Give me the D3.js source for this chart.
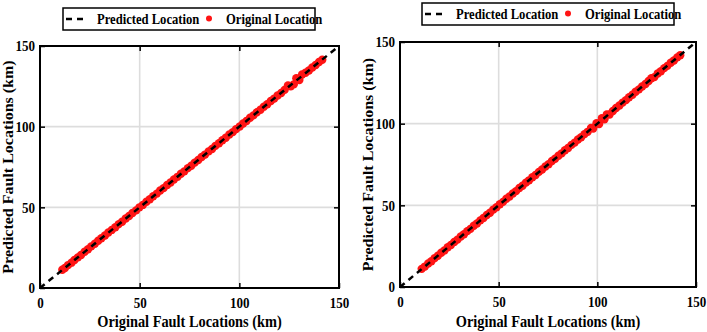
<!DOCTYPE html>
<html>
<head>
<meta charset="utf-8">
<script src="https://cdn.jsdelivr.net/npm/d3@7"></script>
<style>
  body { margin: 0; background: #fff; }
  svg { display: block; }
  svg text { font-family: "Liberation Serif", "Times New Roman", serif; font-weight: bold; fill: #000; }
</style>
</head>
<body>
<svg id="chart" width="707" height="332"></svg>
<script>
// tick values shared by both panels
const ticks = [0, 50, 100, 150];
const gridTicks = [50, 100];

// left panel: original vs predicted fault location (km)
const origLeft = [11.2,12.5,14.1,15.8,17.3,19.0,20.6,22.4,24.1,25.7,27.5,29.2,30.8,32.6,34.3,36.0,37.8,39.5,41.2,43.0,44.7,46.4,48.2,49.9,51.6,53.4,55.1,56.8,58.6,60.3,62.0,63.8,65.5,67.2,69.0,70.7,72.4,74.2,75.9,77.6,79.4,81.1,82.8,84.6,86.3,88.0,89.8,91.5,93.2,95.0,96.7,98.4,100.2,101.9,103.6,105.4,107.1,108.8,110.6,112.3,114.0,115.8,117.5,119.2,121.0,122.7,124.4,125.8,127.3,128.6,130.1,131.5,133.2,134.9,136.6,138.3,140.0,141.6];
const predLeft = [11.3,12.4,14.2,15.7,17.4,19.0,20.5,22.5,24.0,25.8,27.4,29.3,30.8,32.5,34.4,36.0,37.7,39.6,41.1,43.1,44.6,46.5,48.1,50.0,51.5,53.5,55.0,56.9,58.5,60.4,61.9,63.9,65.4,67.3,68.9,70.8,72.3,74.3,75.8,77.7,79.3,81.2,82.7,84.7,86.2,88.1,89.7,91.6,93.1,95.1,96.6,98.5,100.1,102.0,103.5,105.5,107.0,108.9,110.5,112.4,113.9,115.9,117.4,119.3,120.9,122.8,125.6,125.0,126.2,130.0,128.9,132.3,133.4,134.8,136.7,138.2,140.1,141.5];

// right panel
const origRight = [11.0,12.6,14.3,15.9,17.6,19.2,20.9,22.5,24.2,25.8,27.5,29.1,30.8,32.4,34.1,35.7,37.4,39.0,40.7,42.3,44.0,45.6,47.3,48.9,50.6,52.2,53.9,55.5,57.2,58.8,60.5,62.1,63.8,65.4,67.1,68.7,70.4,72.0,73.7,75.3,77.0,78.6,80.3,81.9,83.6,85.2,86.9,88.5,90.2,91.8,93.5,95.1,96.8,97.9,99.6,100.9,102.3,103.6,104.8,106.2,107.9,109.5,111.2,112.8,114.5,116.1,117.8,119.4,121.1,122.7,124.4,126.0,127.4,128.9,130.6,132.2,133.9,135.5,137.2,138.8,140.5,142.0];
const predRight = [11.1,12.5,14.4,15.8,17.7,19.1,21.0,22.4,24.3,25.7,27.6,29.0,30.9,32.3,34.2,35.6,37.5,38.9,40.8,42.2,44.1,45.5,47.4,48.8,50.7,52.1,54.0,55.4,57.3,58.7,60.6,62.0,63.9,65.3,67.2,68.6,70.5,71.9,73.8,75.2,77.1,78.5,80.4,81.8,83.7,85.1,87.0,88.4,90.3,91.7,93.6,95.0,97.4,97.0,100.3,99.8,103.4,102.7,105.6,105.6,107.8,109.6,111.1,112.9,114.4,116.2,117.7,119.5,121.0,122.8,124.3,126.1,127.8,128.5,130.7,132.1,134.0,135.4,137.3,138.7,140.6,141.9];

const xLabel = "Original Fault Locations (km)";
const yLabel = "Predicted Fault Locations (km)";
const legendItems = ["Predicted Location", "Original Location"];

const squish = 0.87; // the source figure is narrower than its text
const red = "#ff1414";
const svg = d3.select("#chart");

function drawPanel(box, legendPos, xs, ys) {
  const x = d3.scaleLinear().domain([0, 150]).range([box.left, box.right]);
  const y = d3.scaleLinear().domain([0, 150]).range([box.bottom, box.top]);
  const g = svg.append("g");

  // grid
  g.selectAll("line.gx").data(gridTicks).enter().append("line")
    .attr("x1", d => x(d)).attr("x2", d => x(d))
    .attr("y1", box.top).attr("y2", box.bottom)
    .attr("stroke", "#dddddd").attr("stroke-width", 1.6);
  g.selectAll("line.gy").data(gridTicks).enter().append("line")
    .attr("y1", d => y(d)).attr("y2", d => y(d))
    .attr("x1", box.left).attr("x2", box.right)
    .attr("stroke", "#dddddd").attr("stroke-width", 1.6);

  // points
  g.selectAll("circle").data(xs).enter().append("circle")
    .attr("cx", d => x(d))
    .attr("cy", (d, i) => y(ys[i]))
    .attr("r", 4.2)
    .attr("fill", red);

  // ideal line
  g.append("line")
    .attr("x1", x(0)).attr("y1", y(0)).attr("x2", x(150)).attr("y2", y(150))
    .attr("stroke", "#000").attr("stroke-width", 2.5)
    .attr("stroke-dasharray", "6,5");

  // axes, ticks inward
  const bottom = g.append("g").attr("transform", `translate(0,${box.bottom})`)
    .call(d3.axisBottom(x).tickValues(ticks).tickSizeInner(-5).tickSizeOuter(0).tickPadding(9));
  const top = g.append("g").attr("transform", `translate(0,${box.top})`)
    .call(d3.axisTop(x).tickValues(gridTicks).tickSizeInner(-5).tickSizeOuter(0).tickFormat(""));
  const left = g.append("g").attr("transform", `translate(${box.left},0)`)
    .call(d3.axisLeft(y).tickValues(ticks).tickSizeInner(-5).tickSizeOuter(0).tickPadding(5));
  const right = g.append("g").attr("transform", `translate(${box.right},0)`)
    .call(d3.axisRight(y).tickValues(gridTicks).tickSizeInner(-5).tickSizeOuter(0).tickFormat(""));
  [bottom, top, left, right].forEach(a => {
    a.select(".domain").remove();
    a.selectAll(".tick line").attr("stroke", "#000").attr("stroke-width", 1.5);
    a.selectAll("text").attr("font-size", 15).attr("font-family", null).attr("fill", null);
  });
  bottom.selectAll("text").attr("transform", `scale(${squish},1)`);
  left.selectAll("text").attr("x", -5 / squish).attr("transform", `scale(${squish},1)`);

  // frame
  g.append("rect")
    .attr("x", box.left).attr("y", box.top)
    .attr("width", box.right - box.left).attr("height", box.bottom - box.top)
    .attr("fill", "none").attr("stroke", "#000").attr("stroke-width", 2);

  // axis labels
  g.append("text")
    .attr("transform", `translate(${(box.left + box.right) / 2},327) scale(${squish},1)`)
    .attr("text-anchor", "middle").attr("font-size", 16.5)
    .text(xLabel);
  g.append("text")
    .attr("transform", `translate(${box.left - 27},${(box.top + box.bottom) / 2}) scale(${squish},1) rotate(-90)`)
    .attr("text-anchor", "middle").attr("font-size", 16)
    .text(yLabel);

  // legend
  const lg = g.append("g").attr("transform", `translate(${legendPos.x},${legendPos.y})`);
  lg.append("rect").attr("width", 252).attr("height", 22)
    .attr("fill", "#fff").attr("stroke", "#000").attr("stroke-width", 1.5);
  lg.append("line").attr("x1", 3).attr("x2", 24).attr("y1", 11).attr("y2", 11)
    .attr("stroke", "#000").attr("stroke-width", 2.5).attr("stroke-dasharray", "6,5");
  lg.append("text").attr("transform", `translate(34,16) scale(${squish},1)`)
    .attr("font-size", 14.5).text(legendItems[0]);
  lg.append("circle").attr("cx", 146).attr("cy", 10.5).attr("r", 3).attr("fill", red);
  lg.append("text").attr("transform", `translate(163,16) scale(${squish},1)`)
    .attr("font-size", 14.5).text(legendItems[1]);
}

drawPanel({ left: 40, right: 339, top: 46, bottom: 288 }, { x: 63, y: 8 }, origLeft, predLeft);
drawPanel({ left: 400, right: 696, top: 42, bottom: 287 }, { x: 422, y: 3 }, origRight, predRight);
</script>
</body>
</html>
